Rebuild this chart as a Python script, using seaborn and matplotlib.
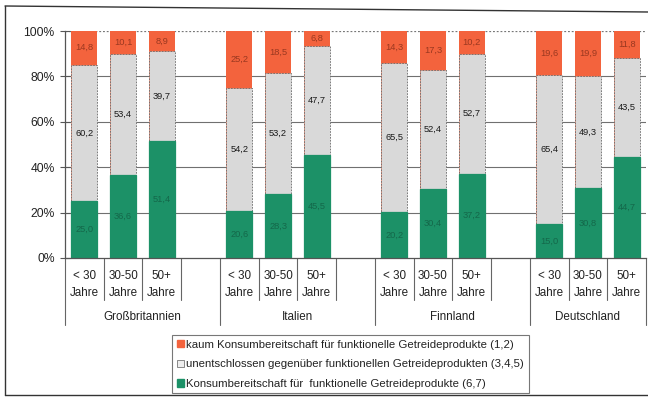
import numpy as np
import pandas as pd
import matplotlib
matplotlib.use("Agg")
import matplotlib.pyplot as plt
import seaborn as sns
from matplotlib.patches import Patch
from matplotlib.lines import Line2D
from matplotlib.transforms import blended_transform_factory

# ---- data -------------------------------------------------------------
countries = ["Großbritannien", "Italien", "Finnland", "Deutschland"]
age_groups = ["< 30\nJahre", "30-50\nJahre", "50+\nJahre"]

# shares in % per country (outer) and age group (inner)
ready = [25.0, 36.6, 51.4, 20.6, 28.3, 45.5, 20.2, 30.4, 37.2, 15.0, 30.8, 44.7]
undecided = [60.2, 53.4, 39.7, 54.2, 53.2, 47.7, 65.5, 52.4, 52.7, 65.4, 49.3, 43.5]
reluctant = [14.8, 10.1, 8.9, 25.2, 18.5, 6.8, 14.3, 17.3, 10.2, 19.6, 19.9, 11.8]

legend_labels = [
    "kaum Konsumbereitschaft für funktionelle Getreideprodukte (1,2)",
    "unentschlossen gegenüber funktionellen Getreideprodukten (3,4,5)",
    "Konsumbereitschaft für  funktionelle Getreideprodukte (6,7)",
]
y_ticks = [0, 20, 40, 60, 80, 100]

# ---- styling ----------------------------------------------------------
C_ORANGE = "#F3633D"
C_GRAY = "#D9D9D9"
C_GREEN = "#1C9167"
T_ORANGE = "#9A3820"
T_GREEN = "#14684A"
LINE = "#555555"

sns.set_style("white")
plt.rcParams["font.family"] = ["Liberation Sans", "DejaVu Sans"]

W, H = 648, 397
fig = plt.figure(figsize=(W / 100, H / 100), dpi=100)


def fy(px):
    return 1 - px / H


ax_left, ax_right, ax_top, ax_bot = 65, 646, 31, 258
ax = fig.add_axes([ax_left / W, fy(ax_bot), (ax_right - ax_left) / W,
                   (ax_bot - ax_top) / H])

# slot layout: three age groups per country followed by one empty slot
n_age = len(age_groups)
rows = []
for ci, country in enumerate(countries):
    for ai, age in enumerate(age_groups):
        k = ci * n_age + ai
        rows.append(dict(pos=ci * (n_age + 1) + ai, country=country, age=age,
                         ready=ready[k], undecided=undecided[k],
                         reluctant=reluctant[k]))
df = pd.DataFrame(rows)
df["mid"] = df["ready"] + df["undecided"]
df["top"] = df["mid"] + df["reluctant"]

bw = 0.67
ax.set_axisbelow(True)
for v in y_ticks[1:-1]:
    ax.axhline(v, color="#707070", lw=0.8, zorder=0)
ax.axhline(100, color="#777777", lw=0.9, ls=(0, (1.5, 1.5)), zorder=0)

sns.barplot(data=df, x="pos", y="top", native_scale=True, color=C_ORANGE,
            saturation=1, width=bw, errorbar=None, linewidth=0, ax=ax)
sns.barplot(data=df, x="pos", y="mid", native_scale=True, color=C_GRAY,
            saturation=1, width=bw, errorbar=None, edgecolor="#6a6a6a",
            linewidth=0.6, linestyle=(0, (2, 1.5)), ax=ax)
sns.barplot(data=df, x="pos", y="ready", native_scale=True, color=C_GREEN,
            saturation=1, width=bw, errorbar=None, edgecolor=C_GREEN,
            linewidth=0.9, ax=ax)

fmt = lambda v: f"{v:.1f}".replace(".", ",")
for _, r in df.iterrows():
    ax.text(r.pos, r.ready / 2, fmt(r.ready), ha="center", va="center",
            fontsize=6.7, color=T_GREEN)
    ax.text(r.pos, r.ready + r.undecided / 2, fmt(r.undecided), ha="center",
            va="center", fontsize=6.7, color="#1a1a1a")
    ax.text(r.pos, min(r.mid + r.reluctant / 2, 100 - r.reluctant / 2),
            fmt(r.reluctant), ha="center", va="center", fontsize=6.7,
            color=T_ORANGE)

n_slots = len(countries) * (n_age + 1) - 1
ax.set_xlim(-0.5, n_slots - 0.5)
ax.set_ylim(0, 100)
ax.set_yticks(y_ticks)
ax.set_yticklabels([f"{v}%" for v in y_ticks], fontsize=8.7, color="#222222")
ax.set_xticks([])
ax.set_xlabel("")
ax.set_ylabel("")
ax.tick_params(axis="y", direction="inout", length=7, width=0.8, color=LINE,
               pad=4, left=True)
for s in ["top", "right"]:
    ax.spines[s].set_visible(False)
ax.spines["left"].set_color(LINE)
ax.spines["left"].set_linewidth(0.9)
ax.spines["bottom"].set_color(LINE)
ax.spines["bottom"].set_linewidth(0.9)

# multi-level category axis drawn as a table below the plot
tr = blended_transform_factory(ax.transData, fig.transFigure)
group_edges = [-0.5] + [ci * (n_age + 1) + n_age + 0.5 for ci in range(len(countries) - 1)] + [n_slots - 0.5]
for b in np.arange(-0.5, n_slots, 1.0):
    long = any(abs(b - g) < 1e-6 for g in group_edges)
    ax.add_line(Line2D([b, b], [fy(ax_bot), fy(325 if long else 300)],
                       transform=tr, color="#666666", lw=0.8, clip_on=False))
for _, r in df.iterrows():
    ax.text(r.pos, fy(284.5), r.age, transform=tr, ha="center", va="center",
            fontsize=8.4, color="#222222", linespacing=1.5)
for ci, country in enumerate(countries):
    lo = group_edges[ci]
    hi = group_edges[ci + 1]
    ax.text((lo + hi) / 2, fy(317), country, transform=tr, ha="center",
            va="center", fontsize=8.4, color="#222222")

# legend
handles = [
    Patch(facecolor=C_ORANGE, edgecolor=C_ORANGE),
    Patch(facecolor="#eeeeee", edgecolor="#777777", linewidth=0.6),
    Patch(facecolor=C_GREEN, edgecolor=C_GREEN),
]
leg = fig.legend(handles, legend_labels, loc="upper left",
                 bbox_to_anchor=(172 / W, fy(335)), fontsize=8.2,
                 frameon=True, fancybox=False, borderpad=0.4,
                 handlelength=0.62, handleheight=0.62, handletextpad=0.25,
                 labelspacing=0.85, borderaxespad=0)
leg.get_frame().set_edgecolor("#555555")
leg.get_frame().set_linewidth(0.8)
for t in leg.get_texts():
    t.set_color("#222222")

# outer frame of the figure
fig.add_artist(Line2D([5 / W, 1], [fy(6), fy(12)], color="#333333", lw=1.0))
fig.add_artist(Line2D([5 / W, 5 / W], [fy(6), fy(395)], color="#333333", lw=1.0))
fig.add_artist(Line2D([5 / W, 1], [fy(395), fy(395)], color="#333333", lw=1.0))

fig.savefig("out.png", dpi=100)
